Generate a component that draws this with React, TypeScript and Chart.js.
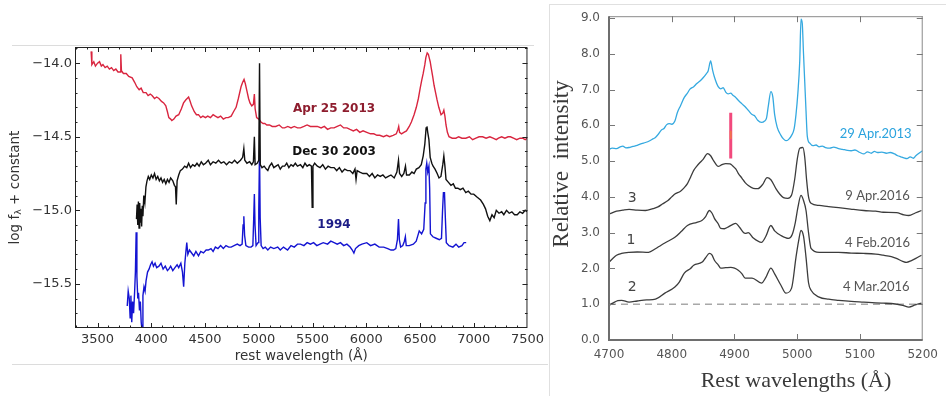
import { useEffect, useRef } from 'react';
import { Chart, registerables } from 'chart.js';

Chart.register(...registerables);

// ---------- Left panel: optical spectra, log f_lambda vs rest wavelength ----------
const leftXTicks = [3500, 4000, 4500, 5000, 5500, 6000, 6500, 7000, 7500];
const leftYTicks = [-15.5, -15.0, -14.5, -14.0];

// [rest wavelength (Å), log f_lambda + constant]
const spec2013: number[][] = [
  [3440, -13.92], [3447, -14.01], [3465, -13.99], [3480, -14.02], [3500, -14.0], [3518, -13.99],
  [3535, -14.02], [3550, -14.01], [3570, -14.03], [3590, -14.02], [3610, -14.04], [3630, -14.03],
  [3650, -14.05], [3670, -14.04], [3690, -14.06], [3710, -14.06], [3716, -13.94], [3722, -14.05],
  [3740, -14.07], [3767, -14.07], [3790, -14.09], [3822, -14.1], [3845, -14.13], [3865, -14.16],
  [3887, -14.18], [3905, -14.17], [3925, -14.2], [3951, -14.2], [3970, -14.22], [3990, -14.21],
  [4007, -14.22], [4030, -14.24], [4050, -14.23], [4071, -14.24], [4095, -14.26], [4115, -14.27],
  [4135, -14.29], [4150, -14.33], [4163, -14.37], [4180, -14.38], [4191, -14.39], [4210, -14.38],
  [4230, -14.36], [4255, -14.35], [4280, -14.31], [4300, -14.27], [4320, -14.25], [4347, -14.23],
  [4362, -14.26], [4375, -14.29], [4400, -14.33], [4420, -14.35], [4439, -14.35], [4460, -14.37],
  [4480, -14.36], [4504, -14.37], [4525, -14.36], [4550, -14.37], [4575, -14.35], [4596, -14.36],
  [4620, -14.37], [4645, -14.36], [4670, -14.38], [4695, -14.37], [4716, -14.37], [4743, -14.36],
  [4765, -14.33], [4789, -14.3], [4810, -14.24], [4835, -14.16], [4850, -14.13], [4863, -14.11],
  [4875, -14.14], [4890, -14.19], [4905, -14.24], [4918, -14.27], [4935, -14.29], [4950, -14.28],
  [4959, -14.21], [4966, -14.31], [4980, -14.37], [5000, -14.38], [5020, -14.4], [5040, -14.41],
  [5056, -14.41], [5075, -14.42], [5100, -14.42], [5125, -14.43], [5158, -14.43], [5190, -14.42],
  [5220, -14.44], [5241, -14.44], [5270, -14.43], [5300, -14.44], [5330, -14.43], [5360, -14.44],
  [5388, -14.44], [5420, -14.43], [5450, -14.42], [5480, -14.43], [5510, -14.43], [5545, -14.43],
  [5580, -14.44], [5610, -14.43], [5640, -14.45], [5670, -14.44], [5701, -14.44], [5730, -14.43],
  [5760, -14.42], [5790, -14.44], [5820, -14.44], [5849, -14.45], [5880, -14.46], [5910, -14.45],
  [5940, -14.47], [5970, -14.46], [6005, -14.47], [6040, -14.48], [6070, -14.48], [6100, -14.49],
  [6125, -14.49], [6160, -14.5], [6190, -14.49], [6217, -14.5], [6250, -14.49], [6280, -14.48],
  [6295, -14.45], [6302, -14.43], [6310, -14.47], [6328, -14.48], [6350, -14.47], [6374, -14.46],
  [6400, -14.43], [6420, -14.4], [6445, -14.35], [6466, -14.3], [6485, -14.24], [6502, -14.17],
  [6515, -14.12], [6530, -14.07], [6545, -14.01], [6555, -13.96], [6567, -13.93], [6578, -13.94],
  [6585, -13.96], [6595, -13.99], [6604, -14.03], [6618, -14.09], [6631, -14.15], [6645, -14.2],
  [6659, -14.25], [6675, -14.3], [6696, -14.35], [6712, -14.34], [6722, -14.32], [6732, -14.36],
  [6742, -14.42], [6755, -14.47], [6770, -14.5], [6800, -14.51], [6834, -14.51], [6860, -14.5],
  [6890, -14.51], [6926, -14.51], [6960, -14.5], [6990, -14.52], [7020, -14.51], [7050, -14.5],
  [7083, -14.5], [7115, -14.51], [7150, -14.5], [7180, -14.51], [7210, -14.52], [7230, -14.51],
  [7260, -14.5], [7290, -14.51], [7320, -14.5], [7341, -14.5], [7370, -14.51], [7400, -14.52],
  [7430, -14.51], [7455, -14.51], [7479, -14.52], [7495, -14.51],
];

const spec2003: number[][] = [
  [3862, -15.06], [3868, -14.96], [3874, -15.1], [3880, -14.94], [3886, -15.12], [3892, -14.95],
  [3898, -15.08], [3904, -14.99], [3910, -15.11], [3916, -14.97], [3922, -15.04], [3930, -14.9],
  [3940, -14.95], [3950, -14.84], [3960, -14.8], [3972, -14.77], [3985, -14.79], [4000, -14.76],
  [4015, -14.78], [4030, -14.75], [4045, -14.79], [4060, -14.77], [4075, -14.8], [4090, -14.78],
  [4105, -14.81], [4120, -14.79], [4135, -14.82], [4150, -14.79], [4165, -14.81], [4180, -14.78],
  [4200, -14.8], [4215, -14.83], [4225, -14.84], [4232, -14.96], [4240, -14.8], [4255, -14.76],
  [4270, -14.73], [4290, -14.72], [4310, -14.7], [4330, -14.71], [4347, -14.68], [4365, -14.71],
  [4385, -14.69], [4405, -14.7], [4425, -14.68], [4445, -14.7], [4465, -14.67], [4485, -14.69],
  [4505, -14.68], [4530, -14.66], [4550, -14.69], [4575, -14.67], [4600, -14.68], [4625, -14.66],
  [4650, -14.68], [4675, -14.67], [4700, -14.69], [4725, -14.67], [4750, -14.68], [4775, -14.66],
  [4800, -14.68], [4830, -14.66], [4850, -14.64], [4861, -14.58], [4870, -14.66], [4890, -14.68],
  [4915, -14.67], [4935, -14.69], [4950, -14.67], [4959, -14.5], [4966, -14.69], [4985, -14.68],
  [5000, -14.66], [5007, -14.0], [5014, -14.69], [5030, -14.71], [5050, -14.7], [5070, -14.72],
  [5084, -14.73], [5100, -14.7], [5120, -14.68], [5140, -14.71], [5160, -14.7], [5180, -14.69],
  [5200, -14.72], [5220, -14.7], [5241, -14.7], [5260, -14.68], [5280, -14.71], [5300, -14.69],
  [5320, -14.7], [5340, -14.68], [5360, -14.7], [5388, -14.69], [5410, -14.71], [5430, -14.68],
  [5450, -14.7], [5470, -14.69], [5490, -14.7], [5497, -14.98], [5504, -14.7], [5520, -14.68],
  [5545, -14.7], [5570, -14.71], [5595, -14.69], [5620, -14.72], [5645, -14.7], [5670, -14.71],
  [5701, -14.71], [5725, -14.73], [5750, -14.71], [5775, -14.74], [5800, -14.72], [5825, -14.73],
  [5849, -14.73], [5875, -14.75], [5895, -14.72], [5905, -14.79], [5915, -14.73], [5940, -14.74],
  [5970, -14.75], [6005, -14.75], [6030, -14.77], [6055, -14.75], [6080, -14.78], [6105, -14.76],
  [6130, -14.77], [6155, -14.76], [6180, -14.78], [6205, -14.77], [6230, -14.76], [6260, -14.78],
  [6285, -14.74], [6300, -14.66], [6310, -14.75], [6330, -14.77], [6350, -14.75], [6365, -14.7],
  [6375, -14.76], [6401, -14.76], [6425, -14.74], [6445, -14.75], [6466, -14.72], [6490, -14.71],
  [6512, -14.69], [6530, -14.63], [6545, -14.55], [6557, -14.44], [6565, -14.43], [6572, -14.47],
  [6583, -14.52], [6595, -14.64], [6610, -14.68], [6622, -14.7], [6640, -14.72], [6660, -14.75],
  [6677, -14.78], [6695, -14.77], [6712, -14.69], [6722, -14.63], [6732, -14.7], [6742, -14.79],
  [6765, -14.81], [6788, -14.83], [6810, -14.82], [6830, -14.85], [6852, -14.85], [6875, -14.86],
  [6900, -14.85], [6926, -14.88], [6950, -14.87], [6975, -14.89], [7000, -14.89], [7030, -14.91],
  [7064, -14.93], [7090, -14.96], [7110, -14.99], [7130, -15.04], [7150, -15.07], [7170, -15.03],
  [7190, -15.05], [7210, -15.0], [7235, -15.02], [7260, -15.01], [7280, -15.03], [7305, -15.0],
  [7330, -15.02], [7355, -15.01], [7380, -15.03], [7405, -15.03], [7430, -15.01], [7455, -15.02],
  [7479, -15.0], [7495, -15.01],
];

const spec1994: number[][] = [
  [3776, -15.65], [3785, -15.55], [3795, -15.6], [3803, -15.73], [3810, -15.58], [3818, -15.76],
  [3826, -15.62], [3835, -15.7], [3845, -15.55], [3852, -15.42], [3859, -15.15], [3866, -15.45],
  [3874, -15.6], [3881, -15.56], [3890, -15.68], [3898, -15.62], [3906, -15.76], [3914, -15.82],
  [3922, -15.58], [3932, -15.52], [3942, -15.55], [3951, -15.48], [3965, -15.42], [3979, -15.4],
  [3993, -15.37], [4007, -15.35], [4020, -15.38], [4035, -15.36], [4050, -15.39], [4071, -15.38],
  [4090, -15.36], [4110, -15.4], [4130, -15.38], [4150, -15.41], [4163, -15.4], [4180, -15.38],
  [4200, -15.41], [4220, -15.39], [4240, -15.37], [4255, -15.39], [4275, -15.36], [4290, -15.42],
  [4301, -15.52], [4312, -15.36], [4322, -15.28], [4330, -15.22], [4340, -15.3], [4355, -15.27],
  [4375, -15.29], [4395, -15.31], [4415, -15.28], [4439, -15.31], [4460, -15.28], [4485, -15.29],
  [4510, -15.27], [4531, -15.27], [4555, -15.26], [4575, -15.28], [4596, -15.25], [4620, -15.26],
  [4645, -15.24], [4670, -15.26], [4695, -15.24], [4720, -15.25], [4743, -15.25], [4770, -15.24],
  [4800, -15.23], [4825, -15.24], [4845, -15.23], [4854, -15.1], [4861, -15.04], [4868, -15.17],
  [4880, -15.24], [4905, -15.25], [4928, -15.25], [4945, -15.24], [4953, -15.05], [4959, -14.89],
  [4965, -15.1], [4975, -15.24], [4993, -15.22], [5000, -15.0], [5007, -14.59], [5013, -15.05],
  [5022, -15.24], [5040, -15.26], [5060, -15.25], [5084, -15.27], [5110, -15.25], [5140, -15.26],
  [5176, -15.25], [5200, -15.27], [5230, -15.25], [5268, -15.27], [5300, -15.24], [5330, -15.25],
  [5360, -15.23], [5388, -15.23], [5420, -15.24], [5450, -15.22], [5480, -15.23], [5510, -15.22],
  [5540, -15.24], [5570, -15.23], [5600, -15.22], [5640, -15.23], [5670, -15.21], [5701, -15.22],
  [5730, -15.23], [5760, -15.22], [5790, -15.24], [5820, -15.23], [5850, -15.25], [5870, -15.27],
  [5885, -15.29], [5900, -15.26], [5930, -15.24], [5960, -15.23], [6005, -15.22], [6040, -15.24],
  [6080, -15.23], [6120, -15.25], [6162, -15.25], [6200, -15.26], [6230, -15.27], [6254, -15.27],
  [6275, -15.26], [6290, -15.2], [6300, -15.06], [6308, -15.2], [6320, -15.25], [6340, -15.24],
  [6355, -15.21], [6364, -15.18], [6372, -15.24], [6400, -15.24], [6438, -15.23], [6465, -15.21],
  [6493, -15.14], [6515, -15.16], [6535, -15.13], [6548, -14.95], [6555, -14.72], [6563, -14.68],
  [6572, -14.74], [6583, -14.7], [6590, -14.85], [6597, -15.16], [6620, -15.18], [6650, -15.19],
  [6680, -15.2], [6700, -15.19], [6710, -15.0], [6718, -14.88], [6728, -14.88], [6736, -15.05],
  [6745, -15.22], [6770, -15.24], [6806, -15.25], [6835, -15.23], [6860, -15.25], [6890, -15.24],
  [6910, -15.22], [6930, -15.22],
];

const leftSeriesNames = ['Apr 25 2013', 'Dec 30 2003', '1994'];
// label anchors in data units: [wavelength, flux]
const leftLabelAnchors: number[][] = [[5700, -14.31], [5700, -14.6], [5700, -15.1]];

// ---------- Right panel: H-beta / [O III] region, relative intensity ----------
const rightXTicks = [4700, 4800, 4900, 5000, 5100, 5200];
const rightYTicks = [0, 1, 2, 3, 4, 5, 6, 7, 8, 9];

const apr2013: number[][] = [
  [4700, 5.33], [4705, 5.36], [4712, 5.35], [4718, 5.4], [4722, 5.42], [4727, 5.37], [4732, 5.38],
  [4738, 5.41], [4745, 5.44], [4752, 5.49], [4758, 5.52], [4765, 5.57], [4770, 5.62], [4774, 5.66],
  [4778, 5.74], [4783, 5.86], [4788, 5.92], [4792, 6.02], [4796, 6.05], [4800, 6.03], [4805, 6.12],
  [4809, 6.36], [4814, 6.55], [4820, 6.78], [4825, 6.9], [4829, 7.01], [4835, 7.08], [4840, 7.17],
  [4845, 7.24], [4850, 7.33], [4855, 7.44], [4858, 7.52], [4862, 7.8], [4865, 7.55], [4868, 7.35],
  [4874, 7.08], [4878, 7.02], [4882, 7.05], [4886, 6.93], [4890, 6.88], [4894, 6.9], [4897, 6.85],
  [4902, 6.78], [4906, 6.7], [4912, 6.6], [4917, 6.52], [4922, 6.42], [4928, 6.3], [4932, 6.27],
  [4937, 6.14], [4943, 6.08], [4948, 6.12], [4951, 6.2], [4954, 6.55], [4958, 6.94], [4961, 6.8],
  [4964, 6.3], [4968, 5.95], [4974, 5.72], [4978, 5.62], [4982, 5.57], [4986, 5.6], [4991, 5.72],
  [4995, 5.9], [4998, 6.3], [5001, 6.9], [5004, 7.8], [5006, 8.97], [5008, 8.85], [5010, 8.0],
  [5012, 7.2], [5014, 6.4], [5016, 5.7], [5020, 5.5], [5025, 5.43], [5030, 5.45], [5035, 5.4],
  [5040, 5.42], [5045, 5.38], [5052, 5.36], [5058, 5.39], [5066, 5.35], [5072, 5.33], [5080, 5.3],
  [5086, 5.29], [5092, 5.31], [5100, 5.24], [5106, 5.2], [5112, 5.26], [5118, 5.22], [5123, 5.27],
  [5128, 5.24], [5135, 5.25], [5142, 5.22], [5148, 5.24], [5155, 5.2], [5160, 5.15], [5165, 5.12],
  [5170, 5.09], [5175, 5.07], [5180, 5.12], [5185, 5.08], [5189, 5.15], [5194, 5.22], [5200, 5.29],
];

const apr2016: number[][] = [
  [4700, 3.52], [4712, 3.6], [4722, 3.63], [4732, 3.65], [4745, 3.63], [4758, 3.62], [4770, 3.67],
  [4778, 3.72], [4785, 3.8], [4794, 3.9], [4800, 4.0], [4805, 4.08], [4814, 4.16], [4820, 4.26],
  [4825, 4.37], [4830, 4.55], [4835, 4.74], [4840, 4.86], [4845, 4.96], [4850, 5.05], [4857, 5.21],
  [4862, 5.15], [4866, 5.03], [4870, 4.92], [4874, 4.85], [4880, 4.9], [4886, 4.93], [4893, 4.92],
  [4897, 4.87], [4902, 4.78], [4906, 4.66], [4912, 4.52], [4917, 4.4], [4922, 4.32], [4930, 4.24],
  [4937, 4.23], [4945, 4.35], [4952, 4.54], [4958, 4.48], [4966, 4.23], [4972, 4.08], [4978, 3.98],
  [4985, 3.96], [4991, 4.05], [4996, 4.5], [5000, 5.05], [5004, 5.36], [5009, 5.38], [5012, 5.1],
  [5015, 4.46], [5018, 4.0], [5022, 3.82], [5035, 3.76], [5050, 3.73], [5066, 3.7], [5085, 3.66],
  [5106, 3.62], [5125, 3.6], [5137, 3.57], [5158, 3.56], [5170, 3.5], [5178, 3.48], [5188, 3.55],
  [5198, 3.62],
];

const feb2016: number[][] = [
  [4700, 2.17], [4706, 2.28], [4712, 2.37], [4720, 2.42], [4732, 2.45], [4745, 2.46], [4763, 2.45],
  [4774, 2.55], [4783, 2.65], [4794, 2.76], [4805, 2.87], [4815, 3.03], [4825, 3.2], [4840, 3.29],
  [4848, 3.34], [4854, 3.45], [4860, 3.62], [4864, 3.55], [4868, 3.4], [4874, 3.25], [4878, 3.12],
  [4884, 3.11], [4889, 3.15], [4896, 3.22], [4902, 3.26], [4908, 3.15], [4917, 2.98], [4922, 3.0],
  [4930, 2.85], [4943, 2.73], [4950, 2.9], [4958, 3.2], [4964, 3.05], [4974, 2.92], [4986, 2.84],
  [4992, 2.95], [4997, 3.29], [5001, 3.7], [5006, 4.04], [5010, 3.9], [5014, 3.62], [5018, 3.0],
  [5022, 2.56], [5035, 2.45], [5050, 2.45], [5066, 2.45], [5086, 2.43], [5106, 2.42], [5125, 2.4],
  [5137, 2.37], [5150, 2.33], [5158, 2.28], [5168, 2.2], [5174, 2.17], [5182, 2.22], [5189, 2.28],
  [5198, 2.37],
];

const mar2016: number[][] = [
  [4700, 0.97], [4706, 1.03], [4714, 1.1], [4720, 1.11], [4732, 1.06], [4745, 1.09], [4760, 1.12],
  [4774, 1.14], [4789, 1.31], [4805, 1.48], [4812, 1.62], [4820, 1.87], [4830, 2.0], [4835, 2.09],
  [4848, 2.17], [4854, 2.3], [4860, 2.42], [4864, 2.38], [4868, 2.23], [4874, 2.1], [4878, 2.01],
  [4886, 2.02], [4894, 2.03], [4900, 2.01], [4906, 1.95], [4912, 1.85], [4917, 1.73], [4928, 1.73],
  [4943, 1.59], [4950, 1.75], [4958, 2.01], [4964, 1.85], [4974, 1.53], [4982, 1.31], [4991, 1.45],
  [4998, 2.31], [5002, 2.75], [5006, 3.06], [5010, 2.9], [5014, 2.31], [5018, 1.6], [5022, 1.39],
  [5035, 1.2], [5050, 1.14], [5066, 1.11], [5086, 1.08], [5106, 1.06], [5125, 1.04], [5137, 1.03],
  [5150, 1.02], [5168, 0.97], [5178, 0.92], [5188, 0.98], [5198, 1.03],
];

const baseline: number[][] = [[4700, 1.0], [5200, 1.0]];
const markerBar: number[][] = [[4894, 5.07], [4894, 6.35]];
const markerCore: number[][] = [[4894, 5.62], [4894, 5.85]];

const rightDates = ['29 Apr.2013', '9 Apr.2016', '4 Feb.2016', '4 Mar.2016'];
const rightDateAnchors: number[][] = [[5125, 5.77], [5128, 4.04], [5128, 2.73], [5126, 1.48]];
const rightIndices = ['3', '1', '2'];
const rightIndexAnchors: number[][] = [[4737, 3.96], [4735, 2.79], [4737, 1.48]];

const pts = (arr: number[][]) => arr.map(([x, y]) => ({ x, y }));
const minusFmt = (v: number) => (v < 0 ? '\u2212' : '') + Math.abs(v).toFixed(1);

function seg(ctx: CanvasRenderingContext2D, x1: number, y1: number, x2: number, y2: number) {
  ctx.beginPath();
  ctx.moveTo(x1, y1);
  ctx.lineTo(x2, y2);
  ctx.stroke();
}

const leftDecor = {
  id: 'leftDecor',
  afterDatasetsDraw(chart: any) {
    const { ctx, chartArea: a, scales } = chart;
    const x = scales.x;
    const y = scales.y;
    ctx.save();
    ctx.strokeStyle = '#222';
    ctx.lineWidth = 1;
    ctx.strokeRect(a.left + 0.5, a.top + 0.5, a.right - a.left - 1, a.bottom - a.top - 1);
    // inward major/minor ticks on all four sides
    for (let w = 3300; w <= 7500; w += 100) {
      const px = Math.round(x.getPixelForValue(w)) + 0.5;
      if (px < a.left + 1 || px > a.right - 1) continue;
      const len = w % 500 === 0 ? 5 : 2.5;
      seg(ctx, px, a.top, px, a.top + len);
      seg(ctx, px, a.bottom, px, a.bottom - len);
    }
    for (let k = -158; k <= -139; k++) {
      const py = Math.round(y.getPixelForValue(k / 10)) + 0.5;
      if (py < a.top + 1 || py > a.bottom - 1) continue;
      const len = k % 5 === 0 ? 5 : 2.5;
      seg(ctx, a.left, py, a.left + len, py);
      seg(ctx, a.right, py, a.right - len, py);
    }
    // series labels
    const labelColors = ['#8e1d2e', '#111111', '#1c1c86'];
    ctx.font = 'bold 12px "DejaVu Sans"';
    ctx.textAlign = 'center';
    ctx.textBaseline = 'middle';
    leftSeriesNames.forEach((t, i) => {
      const [lx, ly] = leftLabelAnchors[i];
      ctx.fillStyle = labelColors[i];
      ctx.fillText(t, x.getPixelForValue(lx), y.getPixelForValue(ly));
    });
    // axis titles
    ctx.fillStyle = '#333';
    ctx.font = '13.5px "DejaVu Sans"';
    ctx.fillText('rest wavelength (\u00c5)', (a.left + a.right) / 2, 356);
    ctx.translate(15, (a.top + a.bottom) / 2);
    ctx.rotate(-Math.PI / 2);
    const big = '13.5px "DejaVu Sans"';
    const small = '9.5px "DejaVu Sans"';
    ctx.font = big;
    const p1 = 'log f';
    const p3 = ' + constant';
    const w1 = ctx.measureText(p1).width;
    const w3 = ctx.measureText(p3).width;
    ctx.font = small;
    const w2 = ctx.measureText('\u03bb').width;
    let cx = -(w1 + w2 + w3) / 2;
    ctx.textAlign = 'left';
    ctx.font = big;
    ctx.fillText(p1, cx, 0);
    cx += w1;
    ctx.font = small;
    ctx.fillText('\u03bb', cx, 4);
    cx += w2;
    ctx.font = big;
    ctx.fillText(p3, cx, 0);
    ctx.restore();
  },
};

const rightDecor = {
  id: 'rightDecor',
  afterDatasetsDraw(chart: any) {
    const { ctx, chartArea: a, scales } = chart;
    const x = scales.x;
    const y = scales.y;
    ctx.save();
    // frame: heavier left/bottom axes, light top/right
    ctx.strokeStyle = '#8a8a8a';
    ctx.lineWidth = 1;
    seg(ctx, a.left, a.top + 0.5, a.right, a.top + 0.5);
    seg(ctx, a.right - 0.5, a.top, a.right - 0.5, a.bottom);
    ctx.strokeStyle = '#6e6e6e';
    ctx.lineWidth = 2;
    seg(ctx, a.left, a.top, a.left, a.bottom + 1);
    seg(ctx, a.left - 1, a.bottom, a.right, a.bottom);
    ctx.lineWidth = 1;
    ctx.strokeStyle = '#777';
    rightXTicks.forEach((w) => {
      const px = Math.round(x.getPixelForValue(w)) + 0.5;
      if (px < a.left + 2 || px > a.right - 2) return;
      seg(ctx, px, a.top, px, a.top + 6);
      seg(ctx, px, a.bottom, px, a.bottom - 6);
    });
    rightYTicks.forEach((v) => {
      const py = Math.round(y.getPixelForValue(v)) + 0.5;
      if (py < a.top + 2 || py > a.bottom - 2) return;
      seg(ctx, a.left, py, a.left + 6, py);
      seg(ctx, a.right, py, a.right - 6, py);
    });
    // date labels
    ctx.textAlign = 'center';
    ctx.textBaseline = 'middle';
    ctx.font = '13px Lato';
    rightDates.forEach((t, i) => {
      const [lx, ly] = rightDateAnchors[i];
      ctx.fillStyle = i === 0 ? '#2aa3de' : '#555';
      ctx.fillText(t, x.getPixelForValue(lx), y.getPixelForValue(ly));
    });
    ctx.fillStyle = '#444';
    ctx.font = '14px "DejaVu Sans"';
    rightIndices.forEach((t, i) => {
      const [lx, ly] = rightIndexAnchors[i];
      ctx.fillText(t, x.getPixelForValue(lx), y.getPixelForValue(ly));
    });
    // axis titles
    ctx.fillStyle = '#3a3a3a';
    ctx.font = '22px "Liberation Serif"';
    ctx.fillText('Rest wavelengths (\u00c5)', 246, 381);
    ctx.translate(12, 164);
    ctx.rotate(-Math.PI / 2);
    ctx.font = '23px "Liberation Serif"';
    ctx.fillText('Relative\u2002intensity', 0, 0);
    ctx.restore();
  },
};

function LeftPanel() {
  const ref = useRef<HTMLCanvasElement | null>(null);
  useEffect(() => {
    if (!ref.current) return;
    const line = (data: number[][], color: string, label: string) => ({
      label,
      data: pts(data),
      borderColor: color,
      borderWidth: 1.4,
      pointRadius: 0,
      tension: 0,
      fill: false,
    });
    const chart = new Chart(ref.current, {
      type: 'line',
      data: {
        datasets: [
          line(spec2003, '#111111', leftSeriesNames[1]),
          line(spec1994, '#1414d2', leftSeriesNames[2]),
          line(spec2013, '#d9253f', leftSeriesNames[0]),
        ],
      },
      options: {
        animation: false,
        responsive: false,
        events: [],
        layout: { padding: { left: 0, right: 16, top: 47, bottom: 0 } },
        plugins: { legend: { display: false }, tooltip: { enabled: false } },
        scales: {
          x: {
            type: 'linear',
            min: 3290,
            max: 7500,
            afterFit: (s: any) => { s.height = 68; },
            afterBuildTicks: (s: any) => { s.ticks = leftXTicks.map((v) => ({ value: v })); },
            grid: { display: false, drawTicks: false },
            border: { display: false },
            ticks: {
              padding: 4,
              autoSkip: false,
              maxRotation: 0,
              color: '#333',
              font: { family: 'DejaVu Sans', size: 13 },
              callback: (v: any) => String(v),
            },
          },
          y: {
            type: 'linear',
            min: -15.8,
            max: -13.89,
            afterFit: (s: any) => { s.width = 75; },
            afterBuildTicks: (s: any) => { s.ticks = leftYTicks.map((v) => ({ value: v })); },
            grid: { display: false, drawTicks: false },
            border: { display: false },
            ticks: {
              padding: 3,
              color: '#333',
              font: { family: 'DejaVu Sans', size: 13 },
              callback: (v: any) => minusFmt(Number(v)),
            },
          },
        },
      },
      plugins: [leftDecor],
    });
    return () => chart.destroy();
  }, []);
  return (
    <canvas
      ref={ref}
      width={548}
      height={396}
      style={{ position: 'absolute', left: 0, top: 0, width: 548, height: 396 }}
    />
  );
}

function RightPanel() {
  const ref = useRef<HTMLCanvasElement | null>(null);
  useEffect(() => {
    if (!ref.current) return;
    const curve = (data: number[][], color: string, label: string, width = 1.3) => ({
      label,
      data: pts(data),
      borderColor: color,
      borderWidth: width,
      pointRadius: 0,
      cubicInterpolationMode: 'monotone' as const,
      fill: false,
    });
    const chart = new Chart(ref.current, {
      type: 'line',
      data: {
        datasets: [
          { ...curve(markerCore, 'rgba(240,120,70,0.85)', 'marker core', 2), cubicInterpolationMode: 'default' as const },
          { ...curve(markerBar, '#f2497d', 'marker', 3), cubicInterpolationMode: 'default' as const },
          curve(apr2013, '#35a9e0', rightDates[0], 1.3),
          curve(apr2016, '#3c3c3c', rightDates[1]),
          curve(feb2016, '#3c3c3c', rightDates[2]),
          curve(mar2016, '#3c3c3c', rightDates[3]),
          { ...curve(baseline, '#a8a8a8', 'baseline', 1.6), borderDash: [7, 5] },
        ],
      },
      options: {
        animation: false,
        responsive: false,
        events: [],
        layout: { padding: { left: 0, right: 12, top: 15, bottom: 0 } },
        plugins: { legend: { display: false }, tooltip: { enabled: false } },
        scales: {
          x: {
            type: 'linear',
            min: 4700,
            max: 5200,
            afterFit: (s: any) => { s.height = 56; },
            afterBuildTicks: (s: any) => { s.ticks = rightXTicks.map((v) => ({ value: v })); },
            grid: { display: false, drawTicks: false },
            border: { display: false },
            ticks: {
              padding: 8,
              autoSkip: false,
              maxRotation: 0,
              color: '#555',
              font: { family: 'DejaVu Sans', size: 12 },
              callback: (v: any) => String(v),
            },
          },
          y: {
            type: 'linear',
            min: 0,
            max: 9.05,
            afterFit: (s: any) => { s.width = 59; },
            afterBuildTicks: (s: any) => { s.ticks = rightYTicks.map((v) => ({ value: v })); },
            grid: { display: false, drawTicks: false },
            border: { display: false },
            ticks: {
              padding: 9,
              color: '#555',
              font: { family: 'DejaVu Sans', size: 12 },
              callback: (v: any) => Number(v).toFixed(1),
            },
          },
        },
      },
      plugins: [rightDecor],
    });
    return () => chart.destroy();
  }, []);
  return (
    <canvas
      ref={ref}
      width={396}
      height={396}
      style={{ position: 'absolute', left: 550, top: 0, width: 396, height: 396 }}
    />
  );
}

export default function App() {
  return (
    <div style={{ position: 'absolute', left: 0, top: 0, width: 946, height: 396, background: '#fff', overflow: 'hidden' }}>
      <div style={{ position: 'absolute', left: 12, top: 45, width: 522, height: 1, background: '#dcdcdc' }} />
      <div style={{ position: 'absolute', left: 12, top: 364, width: 536, height: 1, background: '#dcdcdc' }} />
      <div style={{ position: 'absolute', left: 550, top: 4, width: 396, height: 1, background: '#e0e0e0' }} />
      <div style={{ position: 'absolute', left: 549, top: 4, width: 1, height: 392, background: '#e0e0e0' }} />
      <LeftPanel />
      <RightPanel />
    </div>
  );
}
